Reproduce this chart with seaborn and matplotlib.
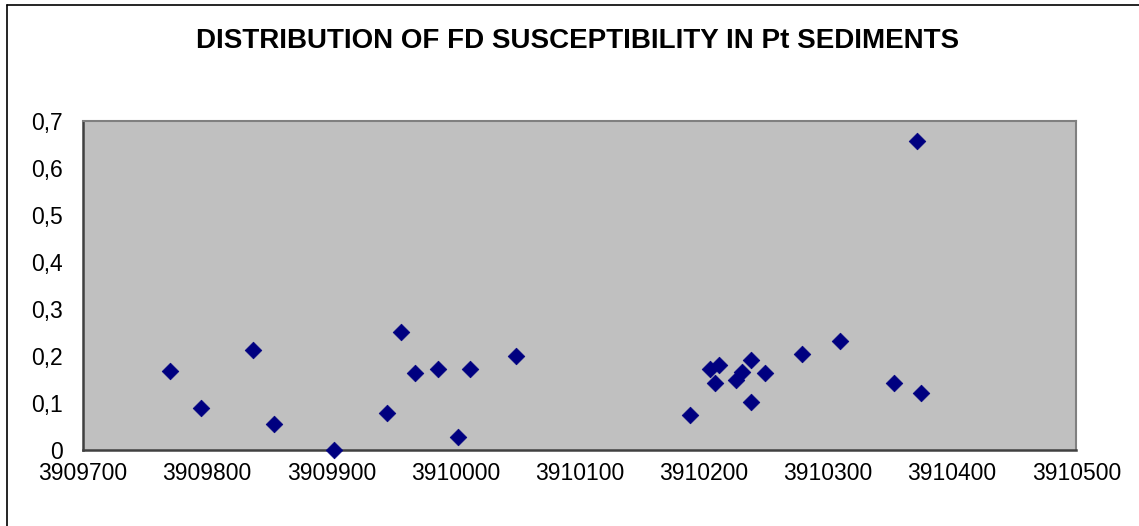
#!/usr/bin/env python
# -*- coding: utf-8 -*-

import numpy as np
import pandas as pd
import matplotlib
matplotlib.use('Agg')
import matplotlib.pyplot as plt
from matplotlib.ticker import FuncFormatter, MultipleLocator
from matplotlib.lines import Line2D
import seaborn as sns

x_coord = [3909770, 3909795, 3909837, 3909854, 3909902, 3909945, 3909956,
           3909967, 3909986, 3910002, 3910012, 3910049,
           3910189, 3910205, 3910212, 3910209, 3910226, 3910231, 3910238,
           3910238, 3910249, 3910279, 3910310, 3910353, 3910372, 3910375]
fd_susc = [0.167, 0.088, 0.213, 0.055, 0.0, 0.079, 0.250,
           0.163, 0.171, 0.028, 0.171, 0.200,
           0.074, 0.171, 0.181, 0.143, 0.148, 0.166, 0.190,
           0.102, 0.163, 0.204, 0.232, 0.143, 0.658, 0.120]

title = 'DISTRIBUTION OF FD SUSCEPTIBILITY IN Pt SEDIMENTS'

sns.set_style("white")
plt.rcParams['font.family'] = ['Liberation Sans', 'DejaVu Sans']

df = pd.DataFrame({'x': x_coord, 'y': fd_susc})

fig = plt.figure(figsize=(11.39, 5.26), dpi=100)
ax = fig.add_axes([83 / 1139, 1 - 449.7 / 526, (1076.3 - 83) / 1139, (449.7 - 121) / 526])
ax.set_facecolor('#C0C0C0')

sns.scatterplot(data=df, x='x', y='y', ax=ax, marker='D', s=72,
                color='#000080', edgecolor='#000080', linewidth=0.5, zorder=3,
                clip_on=False)

ax.set_xlim(3909700, 3910500)
ax.set_ylim(0, 0.7)
ax.xaxis.set_major_locator(MultipleLocator(100))
ax.yaxis.set_major_locator(MultipleLocator(0.1))
ax.xaxis.set_major_formatter(FuncFormatter(lambda v, p: f'{v:.0f}'))
ax.yaxis.set_major_formatter(
    FuncFormatter(lambda v, p: '0' if abs(v) < 1e-9 else f'{v:.1f}'.replace('.', ',')))
ax.set_xlabel('')
ax.set_ylabel('')
ax.grid(False)

ax.tick_params(axis='both', direction='out', length=4.5, width=1, color='black',
               labelsize=16.5, labelcolor='black')
ax.tick_params(axis='y', pad=10)
ax.tick_params(axis='x', pad=4)

for side in ['top', 'right']:
    ax.spines[side].set_color('#808080')
    ax.spines[side].set_linewidth(1.5)
for side in ['left', 'bottom']:
    ax.spines[side].set_color('#404040')
    ax.spines[side].set_linewidth(1.8)

fig.text(578 / 1139, 1 - 41 / 526, title, ha='center', va='center',
         fontsize=20, fontweight='bold', color='black')

# Рамка области диаграммы (видны только верхняя и левая стороны)
fig.add_artist(Line2D([7 / 1139, 1.0], [1 - 5 / 526, 1 - 5 / 526],
                      transform=fig.transFigure, color='black', lw=1.2))
fig.add_artist(Line2D([7 / 1139, 7 / 1139], [0.0, 1 - 5 / 526],
                      transform=fig.transFigure, color='black', lw=1.2))

fig.savefig('out.png', dpi=100)
